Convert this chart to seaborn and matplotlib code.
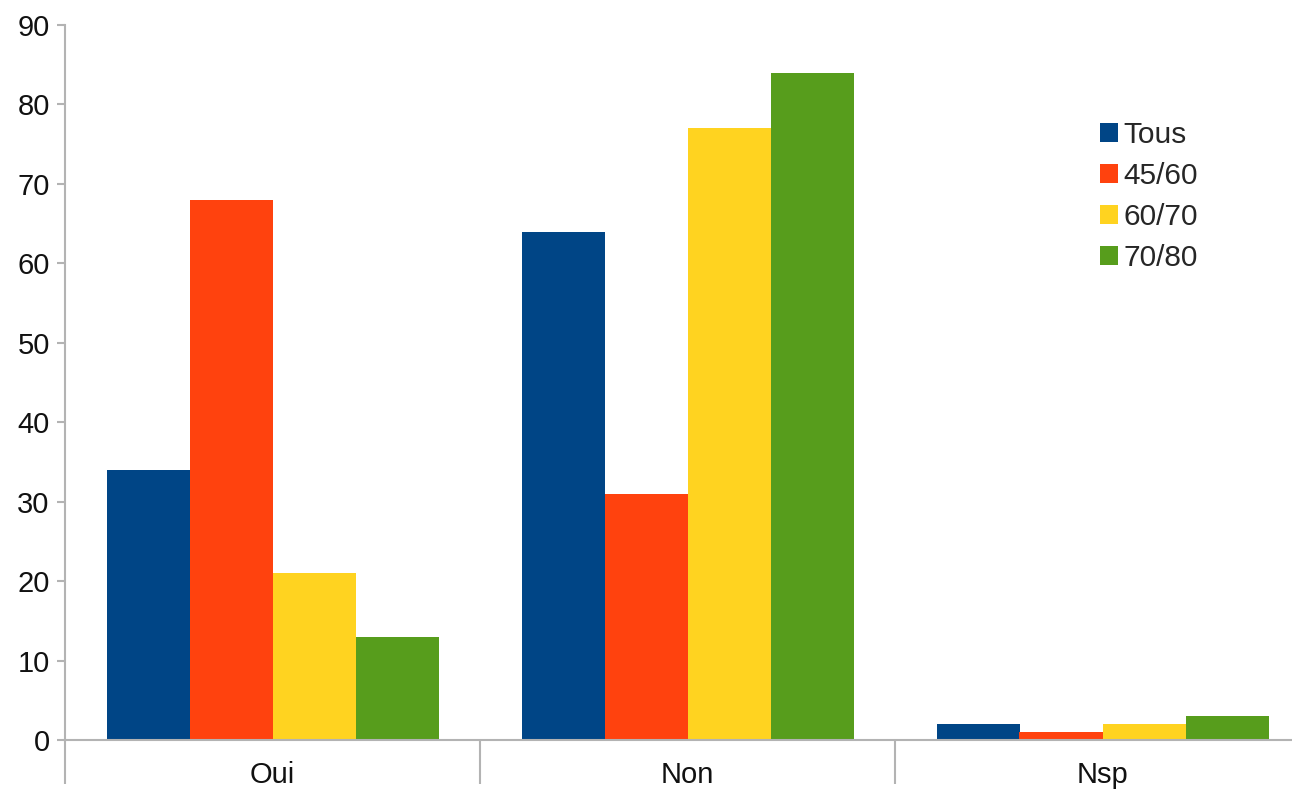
import pandas as pd
import matplotlib.pyplot as plt
import seaborn as sns

# Survey answers by age group
categories = ['Oui', 'Non', 'Nsp']
groups = ['Tous', '45/60', '60/70', '70/80']
tous = [34, 64, 2]
g45_60 = [68, 31, 1]
g60_70 = [21, 77, 2]
g70_80 = [13, 84, 3]
colors = ['#004586', '#ff420e', '#ffd320', '#579d1c']

rows = []
for grp, vals in zip(groups, [tous, g45_60, g60_70, g70_80]):
    for cat, v in zip(categories, vals):
        rows.append({'reponse': cat, 'groupe': grp, 'valeur': v})
df = pd.DataFrame(rows)

sns.set_style('white')
plt.rcParams['font.family'] = ['Liberation Sans', 'DejaVu Sans']

fig = plt.figure(figsize=(12.92, 7.89), dpi=100)
ax = fig.add_axes([65 / 1292, 49 / 789, 1245 / 1292, 715 / 789])

sns.barplot(data=df, x='reponse', y='valeur', hue='groupe', order=categories,
            hue_order=groups, palette=colors, saturation=1, errorbar=None,
            width=0.8, gap=0, linewidth=0, ax=ax)

ax.set_xlim(-0.5, 2.5)
ax.set_ylim(0, 90)
ax.set_yticks(range(0, 91, 10))
ax.set_xlabel('')
ax.set_ylabel('')

grey = '#b3b3b3'
for side in ['top', 'right']:
    ax.spines[side].set_visible(False)
for side in ['left', 'bottom']:
    ax.spines[side].set_color(grey)
    ax.spines[side].set_linewidth(1.5)
ax.spines['left'].set_clip_on(False)

ax.tick_params(axis='y', which='major', length=6, width=1.5, color=grey,
               labelsize=21, labelcolor='#111111', pad=5, left=True)
ax.tick_params(axis='x', which='major', length=0, labelsize=21,
               labelcolor='#111111', pad=15)
ax.set_xticks([-0.5, 0.5, 1.5, 2.5], minor=True)
ax.tick_params(axis='x', which='minor', length=32, width=1.5, color=grey,
               bottom=True)

ax.legend(loc='upper left', bbox_to_anchor=(1085 / 1292, 1 - 106 / 789),
          bbox_transform=fig.transFigure, frameon=False, fontsize=21.5,
          handlelength=0.6, handleheight=0.6, handletextpad=0.2,
          labelspacing=0.44, borderpad=0, title=None)

plt.savefig('out.png', dpi=100)
